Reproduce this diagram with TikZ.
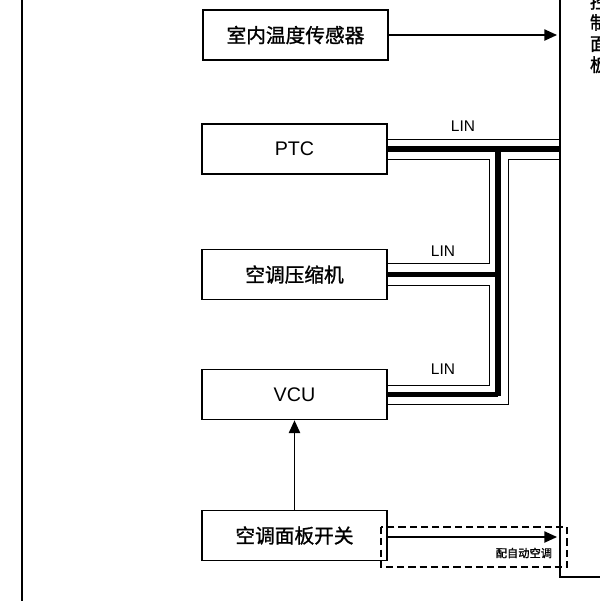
\documentclass[tikz,border=0pt]{standalone}
\usepackage{fontspec}
\setmainfont{Liberation Sans}
\newfontfamily\cjk[FakeBold=1.2]{Noto Sans CJK SC}
\usetikzlibrary{arrows.meta}
\begin{document}
\begin{tikzpicture}[x=0.025cm,y=-0.025cm,
  box/.style={draw,line width=1.2pt,minimum width=185*0.025cm,minimum height=50*0.025cm,inner sep=0pt,font=\cjk\fontsize{14}{14}\selectfont},
  lat/.style={font=\rmfamily\fontsize{14}{14}\selectfont},
  thin/.style={line width=0.7pt},
  thick/.style={line width=3.6pt},
  arr/.style={-{Triangle[length=9pt,width=8pt]},line width=1pt}]
\useasboundingbox (0,0) rectangle (600,601);
\clip (0,0) rectangle (600,601);
\draw[line width=1.5pt] (22,0) -- (22,601);
\draw[line width=1pt] (560,0) -- (560,577) -- (610,577);
\node[box] (sensor) at (295.5,35) {室内温度传感器};
\node[box,lat] (ptc) at (294.5,149) {PTC};
\node[box] (comp) at (294.5,274.5) {空调压缩机};
\node[box,lat] (vcu) at (294.5,394.5) {VCU};
\node[box] (panel) at (294.5,535.5) {空调面板开关};
\coordinate (t1) at (557,35);
\coordinate (t2) at (557,537);
\draw[arr] (sensor.east) -- (t1);
\draw[arr] (panel.north) -- (vcu.south);
\draw[arr] (panel.east|-t2) -- (t2);
\draw[dashed,line width=0.8pt,dash pattern=on 5pt off 3pt] (381,527) rectangle (567,567);
\node[font=\cjk\fontsize{8}{8}\selectfont,anchor=east] at (557,553) {配自动空调};
% bus
\draw[thin] (ptc.east|-0,139) -- (560,139);
\draw[thick] (ptc.east) -- (560,149);
\draw[thin] (ptc.east|-0,159) -- (489,159) -- (489,263) -- (comp.east|-0,263);
\draw[thick] (comp.east) -- (498,274.5);
\draw[thin] (comp.east|-0,285) -- (489,285) -- (489,385) -- (vcu.east|-0,385);
\draw[thick] (vcu.east) -- (498,394.5);
\draw[thick] (498,149) -- (498,396.3);
\draw[thin] (vcu.east|-0,404) -- (508,404) -- (508,159) -- (560,159);
\node[font=\fontsize{11}{11}\selectfont] at (463,126) {LIN};
\node[font=\fontsize{11}{11}\selectfont] at (443,251) {LIN};
\node[font=\fontsize{11}{11}\selectfont] at (443,369) {LIN};
\node[font=\cjk\fontsize{13}{15}\selectfont,anchor=north west,align=left] at (585,-12) {控\\制\\面\\板};
\end{tikzpicture}
\end{document}
